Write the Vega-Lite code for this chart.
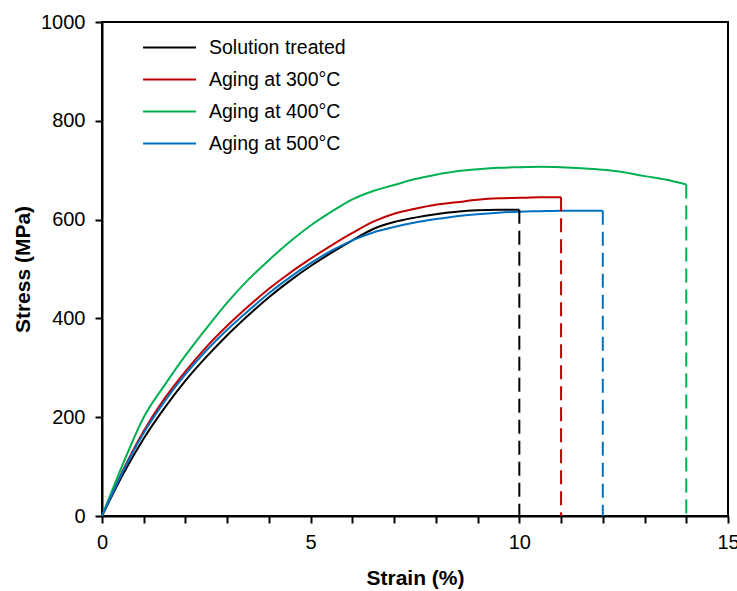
{
  "$schema": "https://vega.github.io/schema/vega-lite/v6.json",
  "width": 626,
  "height": 494,
  "autosize": {"type": "none"},
  "padding": {"left": 102, "top": 22, "right": 9, "bottom": 75},
  "background": "white",
  "config": {
    "font": "Liberation Sans",
    "view": {"stroke": "black", "strokeWidth": 2},
    "axis": {
      "grid": false,
      "domainColor": "black",
      "domainWidth": 2,
      "tickColor": "black",
      "tickWidth": 2,
      "tickSize": 7,
      "labelColor": "black",
      "labelFont": "Liberation Sans",
      "labelFontSize": 20,
      "titleFont": "Liberation Sans",
      "titleFontSize": 21,
      "titleFontWeight": "bold",
      "titleColor": "black"
    }
  },
  "datasets": {
    "curves": [
      {"series": "Solution treated", "strain": 0, "stress": 0},
      {"series": "Solution treated", "strain": 0.5, "stress": 84},
      {"series": "Solution treated", "strain": 1.0, "stress": 157},
      {"series": "Solution treated", "strain": 1.5, "stress": 219},
      {"series": "Solution treated", "strain": 2.0, "stress": 274},
      {"series": "Solution treated", "strain": 2.5, "stress": 322},
      {"series": "Solution treated", "strain": 3.0, "stress": 366},
      {"series": "Solution treated", "strain": 3.5, "stress": 406},
      {"series": "Solution treated", "strain": 4.0, "stress": 443},
      {"series": "Solution treated", "strain": 4.5, "stress": 476},
      {"series": "Solution treated", "strain": 5.0, "stress": 506},
      {"series": "Solution treated", "strain": 5.5, "stress": 533},
      {"series": "Solution treated", "strain": 6.0, "stress": 558},
      {"series": "Solution treated", "strain": 6.5, "stress": 581},
      {"series": "Solution treated", "strain": 7.0, "stress": 595},
      {"series": "Solution treated", "strain": 7.5, "stress": 604},
      {"series": "Solution treated", "strain": 8.0, "stress": 611},
      {"series": "Solution treated", "strain": 8.5, "stress": 616},
      {"series": "Solution treated", "strain": 9.0, "stress": 619},
      {"series": "Solution treated", "strain": 9.5, "stress": 620},
      {"series": "Solution treated", "strain": 10.0, "stress": 620},
      {"series": "Aging at 300°C", "strain": 0, "stress": 0},
      {"series": "Aging at 300°C", "strain": 0.5, "stress": 92},
      {"series": "Aging at 300°C", "strain": 1.0, "stress": 172},
      {"series": "Aging at 300°C", "strain": 1.5, "stress": 238},
      {"series": "Aging at 300°C", "strain": 2.0, "stress": 293},
      {"series": "Aging at 300°C", "strain": 2.5, "stress": 342},
      {"series": "Aging at 300°C", "strain": 3.0, "stress": 385},
      {"series": "Aging at 300°C", "strain": 3.5, "stress": 424},
      {"series": "Aging at 300°C", "strain": 4.0, "stress": 460},
      {"series": "Aging at 300°C", "strain": 4.5, "stress": 492},
      {"series": "Aging at 300°C", "strain": 5.0, "stress": 521},
      {"series": "Aging at 300°C", "strain": 5.5, "stress": 548},
      {"series": "Aging at 300°C", "strain": 6.0, "stress": 573},
      {"series": "Aging at 300°C", "strain": 6.5, "stress": 596},
      {"series": "Aging at 300°C", "strain": 7.0, "stress": 612},
      {"series": "Aging at 300°C", "strain": 7.5, "stress": 622},
      {"series": "Aging at 300°C", "strain": 8.0, "stress": 630},
      {"series": "Aging at 300°C", "strain": 8.5, "stress": 635},
      {"series": "Aging at 300°C", "strain": 9.0, "stress": 640},
      {"series": "Aging at 300°C", "strain": 9.5, "stress": 643},
      {"series": "Aging at 300°C", "strain": 10.0, "stress": 644},
      {"series": "Aging at 300°C", "strain": 10.5, "stress": 645},
      {"series": "Aging at 300°C", "strain": 11.0, "stress": 645},
      {"series": "Aging at 400°C", "strain": 0, "stress": 0},
      {"series": "Aging at 400°C", "strain": 0.5, "stress": 105},
      {"series": "Aging at 400°C", "strain": 1.0, "stress": 200},
      {"series": "Aging at 400°C", "strain": 1.5, "stress": 265},
      {"series": "Aging at 400°C", "strain": 2.0, "stress": 325},
      {"series": "Aging at 400°C", "strain": 2.5, "stress": 380},
      {"series": "Aging at 400°C", "strain": 3.0, "stress": 432},
      {"series": "Aging at 400°C", "strain": 3.5, "stress": 478},
      {"series": "Aging at 400°C", "strain": 4.0, "stress": 518},
      {"series": "Aging at 400°C", "strain": 4.5, "stress": 555},
      {"series": "Aging at 400°C", "strain": 5.0, "stress": 588},
      {"series": "Aging at 400°C", "strain": 5.5, "stress": 616},
      {"series": "Aging at 400°C", "strain": 6.0, "stress": 641},
      {"series": "Aging at 400°C", "strain": 6.5, "stress": 658},
      {"series": "Aging at 400°C", "strain": 7.0, "stress": 670},
      {"series": "Aging at 400°C", "strain": 7.5, "stress": 682},
      {"series": "Aging at 400°C", "strain": 8.0, "stress": 691},
      {"series": "Aging at 400°C", "strain": 8.5, "stress": 698},
      {"series": "Aging at 400°C", "strain": 9.0, "stress": 702},
      {"series": "Aging at 400°C", "strain": 9.5, "stress": 705},
      {"series": "Aging at 400°C", "strain": 10.0, "stress": 706},
      {"series": "Aging at 400°C", "strain": 10.5, "stress": 707},
      {"series": "Aging at 400°C", "strain": 11.0, "stress": 706},
      {"series": "Aging at 400°C", "strain": 11.5, "stress": 704},
      {"series": "Aging at 400°C", "strain": 12.0, "stress": 701},
      {"series": "Aging at 400°C", "strain": 12.5, "stress": 696},
      {"series": "Aging at 400°C", "strain": 13.0, "stress": 688},
      {"series": "Aging at 400°C", "strain": 13.5, "stress": 681},
      {"series": "Aging at 400°C", "strain": 14.0, "stress": 671},
      {"series": "Aging at 500°C", "strain": 0, "stress": 0},
      {"series": "Aging at 500°C", "strain": 0.5, "stress": 90},
      {"series": "Aging at 500°C", "strain": 1.0, "stress": 168},
      {"series": "Aging at 500°C", "strain": 1.5, "stress": 232},
      {"series": "Aging at 500°C", "strain": 2.0, "stress": 287},
      {"series": "Aging at 500°C", "strain": 2.5, "stress": 335},
      {"series": "Aging at 500°C", "strain": 3.0, "stress": 377},
      {"series": "Aging at 500°C", "strain": 3.5, "stress": 415},
      {"series": "Aging at 500°C", "strain": 4.0, "stress": 451},
      {"series": "Aging at 500°C", "strain": 4.5, "stress": 483},
      {"series": "Aging at 500°C", "strain": 5.0, "stress": 512},
      {"series": "Aging at 500°C", "strain": 5.5, "stress": 537},
      {"series": "Aging at 500°C", "strain": 6.0, "stress": 558},
      {"series": "Aging at 500°C", "strain": 6.5, "stress": 574},
      {"series": "Aging at 500°C", "strain": 7.0, "stress": 585},
      {"series": "Aging at 500°C", "strain": 7.5, "stress": 594},
      {"series": "Aging at 500°C", "strain": 8.0, "stress": 601},
      {"series": "Aging at 500°C", "strain": 8.5, "stress": 607},
      {"series": "Aging at 500°C", "strain": 9.0, "stress": 611},
      {"series": "Aging at 500°C", "strain": 9.5, "stress": 614},
      {"series": "Aging at 500°C", "strain": 10.0, "stress": 616},
      {"series": "Aging at 500°C", "strain": 10.5, "stress": 617},
      {"series": "Aging at 500°C", "strain": 11.0, "stress": 618},
      {"series": "Aging at 500°C", "strain": 11.5, "stress": 618},
      {"series": "Aging at 500°C", "strain": 12.0, "stress": 618}
    ],
    "ends": [
      {"series": "Solution treated", "strain": 10.0, "stress": 620},
      {"series": "Aging at 300°C", "strain": 11.0, "stress": 645},
      {"series": "Aging at 400°C", "strain": 14.0, "stress": 671},
      {"series": "Aging at 500°C", "strain": 12.0, "stress": 618}
    ]
  },
  "layer": [
    {
      "data": {"name": "curves"},
      "mark": {"type": "line", "strokeWidth": 2, "interpolate": "monotone"},
      "encoding": {
        "x": {
          "field": "strain",
          "type": "quantitative",
          "scale": {"domain": [0, 15], "nice": false},
          "axis": {
            "title": "Strain (%)",
            "values": [0, 1, 2, 3, 4, 5, 6, 7, 8, 9, 10, 11, 12, 13, 14, 15],
            "labelExpr": "datum.value % 5 === 0 ? datum.label : ''",
            "labelPadding": 9,
            "titlePadding": 15,
            "labelFlush": false,
            "labelOverlap": false
          }
        },
        "y": {
          "field": "stress",
          "type": "quantitative",
          "scale": {"domain": [0, 1000], "nice": false},
          "axis": {
            "title": "Stress (MPa)",
            "format": "d",
            "values": [0, 200, 400, 600, 800, 1000],
            "labelPadding": 10,
            "titlePadding": 7,
            "labelFlush": false
          }
        },
        "color": {
          "field": "series",
          "type": "nominal",
          "scale": {
            "domain": ["Solution treated", "Aging at 300°C", "Aging at 400°C", "Aging at 500°C"],
            "range": ["#000000", "#C00000", "#00B050", "#0070C0"]
          },
          "legend": {
            "title": null,
            "orient": "none",
            "legendX": 53,
            "legendY": 11,
            "symbolType": "M-2,0H2",
            "symbolSize": 700,
            "symbolStrokeWidth": 2,
            "labelFont": "Liberation Sans",
            "labelFontSize": 19.5,
            "labelColor": "black",
            "labelOffset": 25,
            "rowPadding": 8
          }
        }
      }
    },
    {
      "data": {"name": "ends"},
      "mark": {"type": "rule", "strokeWidth": 2, "strokeDash": [14, 7]},
      "encoding": {
        "x": {"field": "strain", "type": "quantitative"},
        "y": {"field": "stress", "type": "quantitative"},
        "y2": {"datum": 0},
        "color": {"field": "series", "type": "nominal", "legend": null}
      }
    }
  ]
}
